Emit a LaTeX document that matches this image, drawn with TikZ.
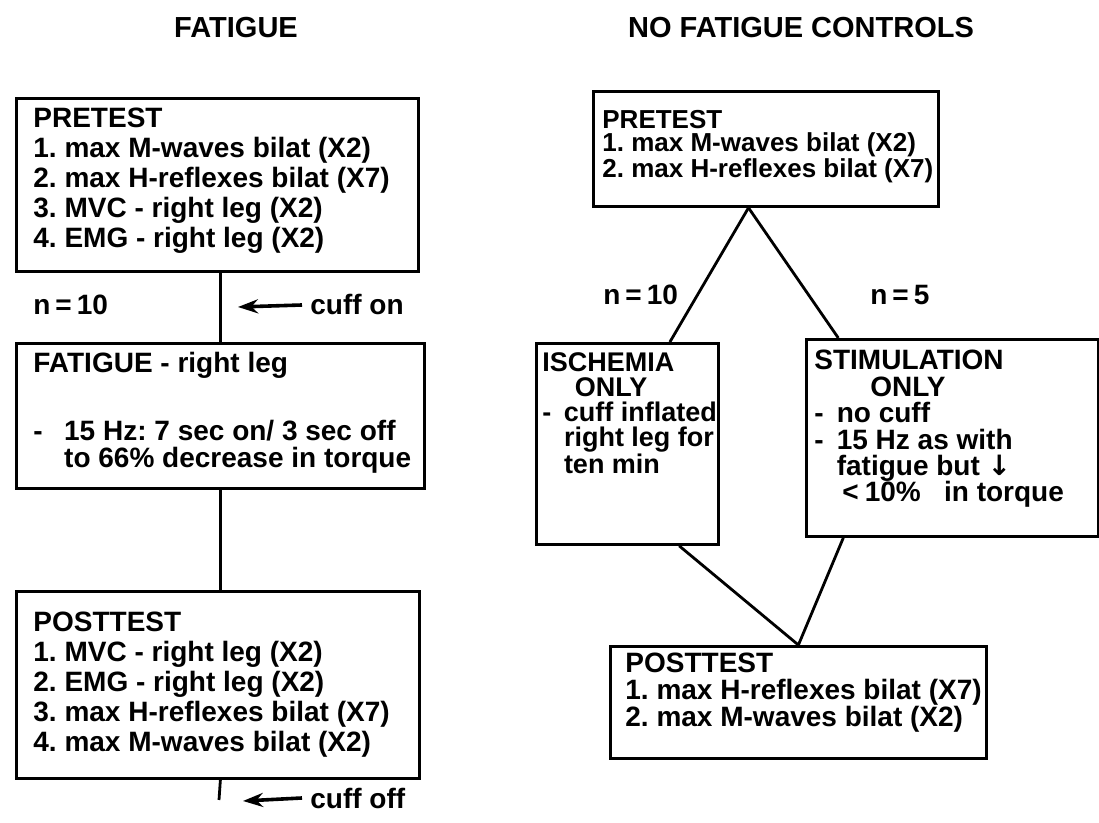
\documentclass[tikz,border=0pt]{standalone}
\usepackage{fontspec}
\setmainfont{Liberation Sans}
\newfontfamily\symfont{DejaVu Sans}
\usetikzlibrary{arrows.meta,calc}
\frenchspacing
\begin{document}
\begin{tikzpicture}[x=0.5pt,y=-0.5pt,
  box/.style={draw, line width=1.4pt, anchor=north west, inner sep=0pt},
  conn/.style={line width=1.4pt},
  arr/.style={line width=1.8pt, -{Stealth[length=10pt,width=7pt]}},
  txt/.style={anchor=north west, inner sep=0pt, align=left, font=\bfseries\fontsize{14}{15}\selectfont},
  txtr/.style={anchor=north west, inner sep=0pt, align=left, font=\bfseries\fontsize{13.5}{12.5}\selectfont},
  title/.style={anchor=base, inner sep=0pt, font=\bfseries\fontsize{14.5}{16}\selectfont},
  lab/.style={anchor=base west, inner sep=0pt, font=\bfseries\fontsize{14}{15}\selectfont}]
\useasboundingbox (0,0) rectangle (1099,823);

% titles
\node[title] (t1) at (236,38) {FATIGUE};
\node[title] (t2) at (801,38) {NO FATIGUE CONTROLS};

% ---------- left column ----------
\node[box, minimum width=201pt, minimum height=86.5pt] (pre1) at (15,97) {};
\node[txt] (pre1t) at (33,108) {PRETEST\\
1. max M-waves bilat (X2)\\
2. max H-reflexes bilat (X7)\\
3. MVC - right leg (X2)\\
4. EMG - right leg (X2)};

\node[box, minimum width=204pt, minimum height=72.5pt] (fat) at (15,342) {};
\node[txt] (fatt) at (33,352) {FATIGUE - right leg\\[19pt]
\makebox[1.1em][l]{-}15 Hz: 7 sec on/ 3 sec off\\[-1.5pt]
\hspace{1.1em}to 66\% decrease in torque};

\node[box, minimum width=201.5pt, minimum height=93.5pt] (post1) at (15,590) {};
\node[txt] (post1t) at (33,612) {POSTTEST\\
1. MVC - right leg (X2)\\
2. EMG - right leg (X2)\\
3. max H-reflexes bilat (X7)\\
4. max M-waves bilat (X2)};

\node[lab] (n10a) at (33,315) {n\hspace{2.5pt}=\hspace{2.5pt}10};
\node[lab] (cuffon) at (310,315) {cuff on};
\node[lab] (cuffoff) at (310,808) {cuff off};
\coordinate (cuffonend) at (238,307);
\coordinate (cuffoffend) at (243,801);
\coordinate (bottomend) at (219,800);

\draw[conn] (pre1.south -| fat.north) -- (fat.north);
\draw[conn] (fat.south) -- (fat.south |- post1.north);
\draw[conn] (post1.south -| fat.south) -- (bottomend);
\draw[arr] ([xshift=-4pt]cuffon.west) -- (cuffonend);
\draw[arr] ([xshift=-4pt]cuffoff.west) -- (cuffoffend);

% ---------- right column ----------
\node[box, minimum width=172.5pt, minimum height=57.5pt] (pre2) at (592,90) {};
\node[anchor=north west, inner sep=0pt, align=left, font=\bfseries\fontsize{13}{11.5}\selectfont] (pre2t) at (602,110) {PRETEST\\
1. max M-waves bilat (X2)\\
2. max H-reflexes bilat (X7)};

\node[box, minimum width=91pt, minimum height=100.5pt] (isch) at (535,342) {};
\node[txtr] (ischt) at (542,352) {ISCHEMIA\\
\hspace{1.2em}ONLY\\
\makebox[0.8em][l]{-}cuff inflated\\
\hspace{0.8em}right leg for\\
\hspace{0.8em}ten min};

\node[box, minimum width=146pt, minimum height=98.5pt] (stim) at (805,338) {};
\node[anchor=north west, inner sep=0pt, align=left, font=\bfseries\fontsize{14}{13.2}\selectfont] (stimt) at (814,350) {STIMULATION\\
\hspace{2em}ONLY\\
\makebox[0.8em][l]{-}no cuff\\
\makebox[0.8em][l]{-}15 Hz as with\\
\hspace{0.8em}fatigue but {\symfont\bfseries ↓}\\
\hspace{1em}<\hspace{3pt}10\%\ \ \ in torque};

\node[box, minimum width=188pt, minimum height=56pt] (post2) at (609,645) {};
\node[anchor=north west, inner sep=0pt, align=left, font=\bfseries\fontsize{14}{13.5}\selectfont] (post2t) at (625,653) {POSTTEST\\
1. max H-reflexes bilat (X7)\\
2. max M-waves bilat (X2)};

\node[lab] (n10b) at (603,305) {n\hspace{2.5pt}=\hspace{2.5pt}10};
\node[lab] (n5) at (870,305) {n\hspace{2.5pt}=\hspace{2.5pt}5};

\draw[conn] ($(pre2.south west)!0.45!(pre2.south east)$) -- ($(isch.north west)!0.73!(isch.north east)$);
\draw[conn] ($(pre2.south west)!0.45!(pre2.south east)$) -- ($(stim.north west)!0.113!(stim.north east)$);
\draw[conn] ($(isch.south west)!0.78!(isch.south east)$) -- (post2.north);
\draw[conn] ($(stim.south west)!0.13!(stim.south east)$) -- (post2.north);
\end{tikzpicture}
\end{document}
